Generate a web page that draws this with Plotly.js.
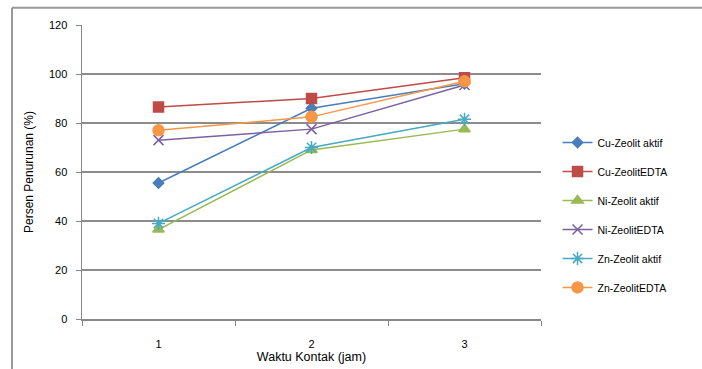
<!DOCTYPE html>
<html><head><meta charset="utf-8">
<script src="https://cdn.plot.ly/plotly-3.0.1.min.js"></script>
<style>html,body{margin:0;padding:0;background:#fff}#chart{width:702px;height:369px}</style>
</head><body><div id="chart"></div>
<script>
const categories = ["1", "2", "3"];
const seriesNames = ["Cu-Zeolit aktif", "Cu-ZeolitEDTA", "Ni-Zeolit aktif", "Ni-ZeolitEDTA", "Zn-Zeolit aktif", "Zn-ZeolitEDTA"];
const cuAktif = [55.5, 86, 96];
const cuEDTA = [86.5, 90, 98.5];
const niAktif = [36.5, 69, 77.5];
const niEDTA = [73, 77.5, 95.5];
const znAktif = [39, 70, 81.5];
const znEDTA = [77, 82.5, 97];
const yTicks = [0, 20, 40, 60, 80, 100, 120];

const values = [cuAktif, cuEDTA, niAktif, niEDTA, znAktif, znEDTA];
const colors = ["#4A7EBB", "#BE4B48", "#98B954", "#7D60A0", "#46AAC5", "#F79646"];
const symbols = ["diamond", "square", "triangle-up", "x-thin-open", "asterisk-open", "circle"];
const sizes = [8, 10, 10, 10, 11, 11];

const traces = values.map((v, i) => ({
  type: "scatter", mode: "lines+markers",
  x: categories, y: v, name: seriesNames[i],
  legendgroup: "g" + i,
  line: {color: colors[i], width: 1.5},
  marker: {symbol: symbols[i], size: sizes[i], color: colors[i], line: {color: colors[i], width: 1.5}}
}));

const F = "Liberation Sans, Arial, sans-serif";
const layout = {
  width: 702, height: 369,
  margin: {l: 82, r: 161, t: 25, b: 50},
  paper_bgcolor: "#fff", plot_bgcolor: "#fff",
  font: {family: F, size: 11, color: "#000"},
  showlegend: true,
  legend: {x: 1.036, y: 0.354, xanchor: "left", yanchor: "middle", traceorder: "grouped", tracegroupgap: 10,
           font: {family: F, size: 10.5, color: "#000"}, bgcolor: "rgba(0,0,0,0)"},
  xaxis: {type: "category", tickson: "boundaries", ticks: "outside", ticklen: 5, tickcolor: "#888",
          showline: true, linecolor: "#888", linewidth: 1.5, showgrid: false, ticklabelstandoff: 14,
          tickfont: {family: F, size: 11}, range: [-0.5, 2.5],
          title: {text: "Waktu Kontak (jam)", font: {family: F, size: 12.5, color: "#000"}, standoff: 1}},
  yaxis: {range: [0, 120], tickvals: yTicks, ticktext: yTicks.map(String), ticks: "outside", ticklen: 5, tickcolor: "#888",
          showline: true, linecolor: "#888", linewidth: 1.5, showgrid: true, gridcolor: "#8c8c8c", gridwidth: 1.2,
          zeroline: false, ticklabelstandoff: 6, tickfont: {family: F, size: 11},
          title: {text: "Persen Penurunan (%)", font: {family: F, size: 12, color: "#000"}, standoff: 12}},
  shapes: [
    {type: "line", xref: "paper", yref: "paper", x0: -0.1525, x1: -0.1525, y0: -0.2, y1: 1.059, line: {color: "#999", width: 2}, layer: "below"},
    {type: "line", xref: "paper", yref: "paper", x0: -0.1525, x1: 1.4, y0: 1.059, y1: 1.059, line: {color: "#999", width: 2}, layer: "below"}
  ]
};
Plotly.newPlot("chart", traces, layout, {displayModeBar: false, staticPlot: true});
</script></body></html>
